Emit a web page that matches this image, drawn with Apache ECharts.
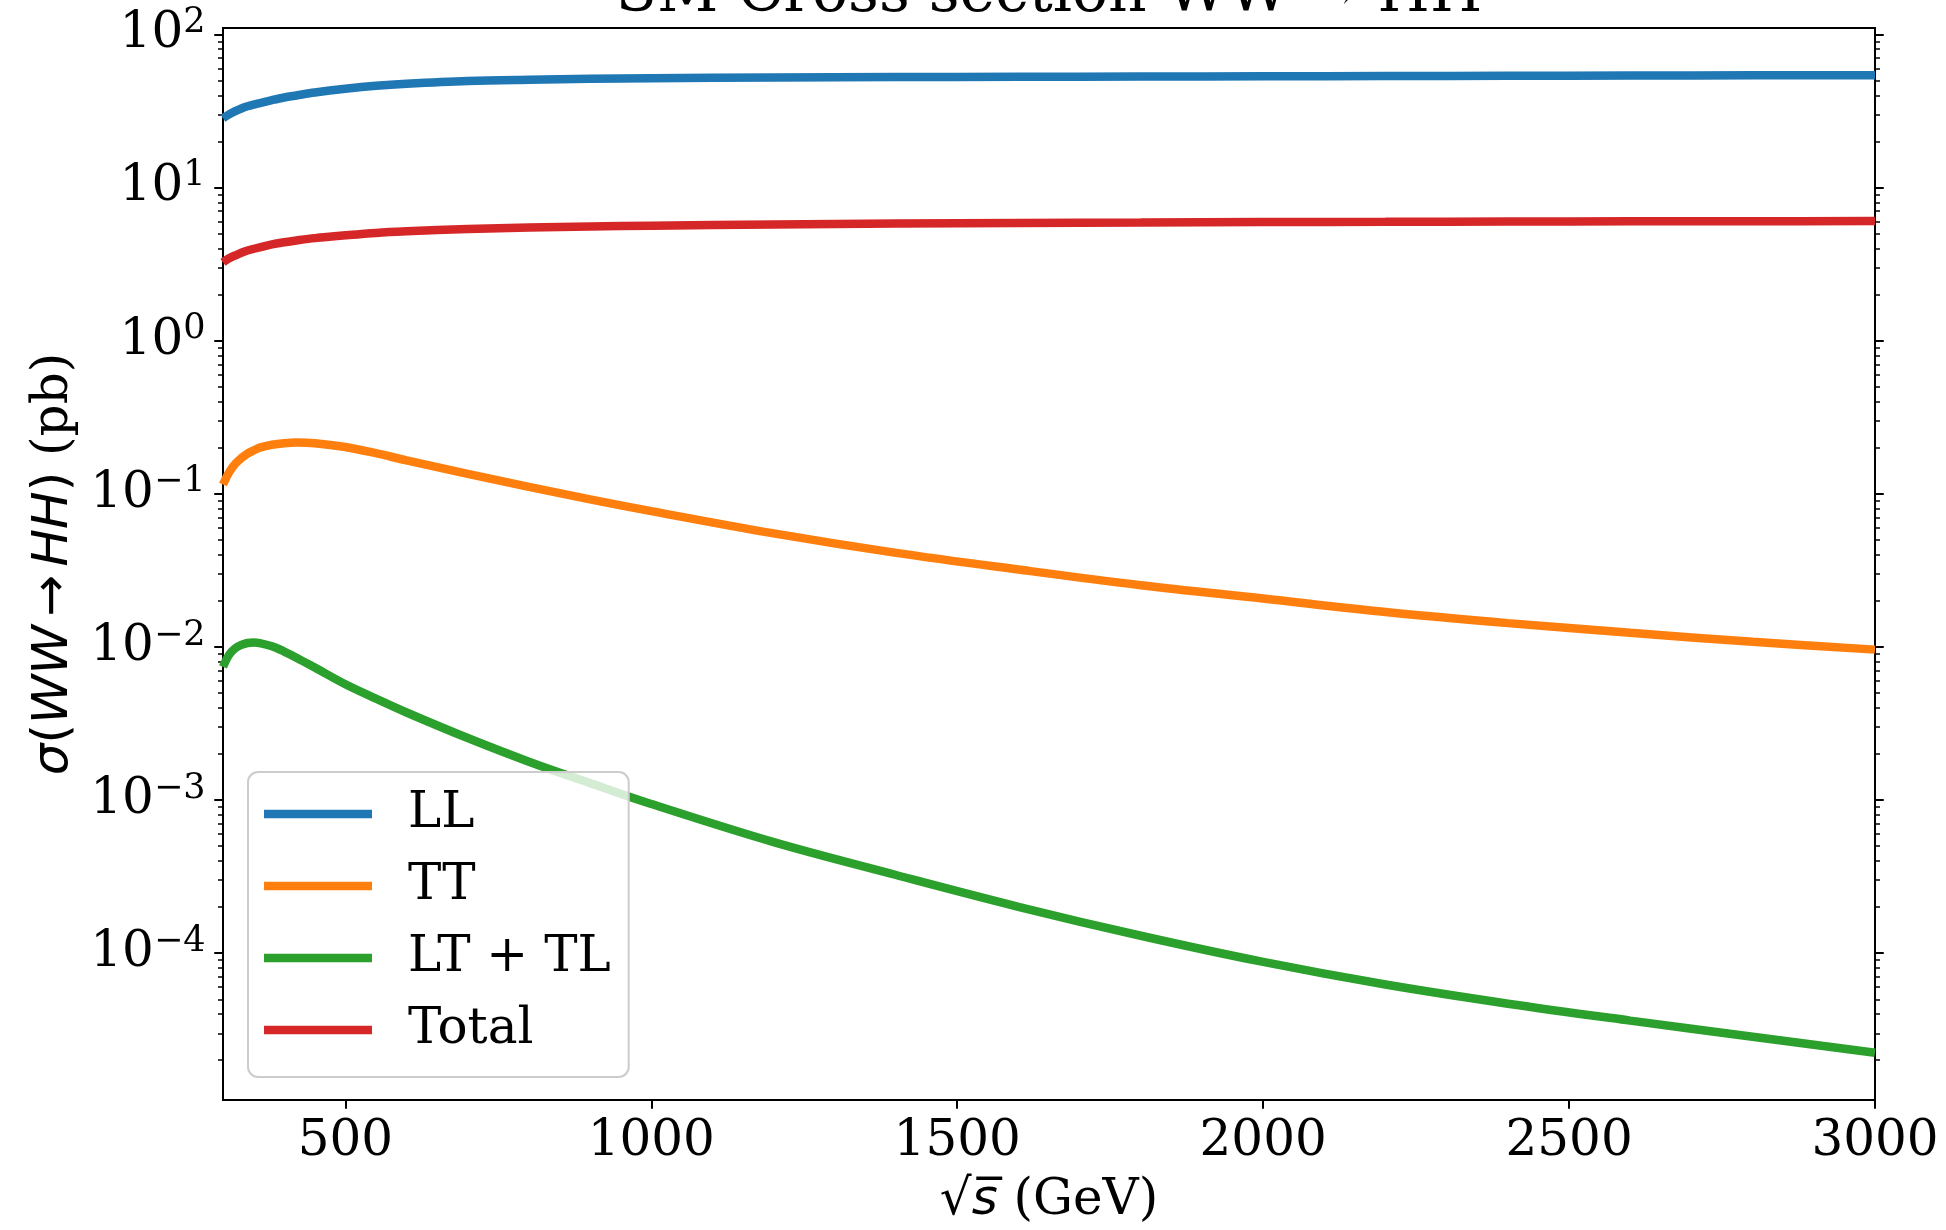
<!DOCTYPE html>
<html><head><meta charset="utf-8">
<script src="https://cdn.jsdelivr.net/npm/echarts@6/dist/echarts.min.js"></script>
<style>html,body{margin:0;padding:0;background:#fff}#c{width:1946px;height:1230px}</style>
</head><body><div id="c"></div>
<script>
// ---- data ----
const sqrtS = [300,310,320,330,340,350,360,380,400,420,450,500,550,600,700,800,900,1000,1200,1400,1600,1800,2000,2200,2400,2600,2800,3000];
const LL    = [28.3,30.0,31.5,32.8,33.9,34.8,35.6,37.2,38.7,39.9,41.7,44.1,46.1,47.5,49.5,50.5,51.2,51.7,52.3,52.6,52.8,53.0,53.2,53.4,53.6,53.8,54.0,54.1];
const TT    = [0.115,0.138,0.157,0.171,0.183,0.192,0.200,0.209,0.214,0.216,0.214,0.202,0.184,0.165,0.135,0.111,0.092,0.077,0.0551,0.0411,0.032,0.0253,0.0207,0.0169,0.0143,0.01236,0.0108,0.0096];
const LTTL  = [0.0074,0.00889,0.0098,0.0103,0.0106,0.0107,0.0106,0.0101,0.00933,0.00851,0.00733,0.0057,0.00459,0.00373,0.00254,0.00178,0.00129,0.000942,0.000531,0.000324,0.000201,0.00013,0.0000877,0.0000624,0.0000468,0.0000363,0.0000285,0.0000224];
const Total = [3.24,3.45,3.60,3.75,3.88,3.98,4.06,4.25,4.39,4.51,4.67,4.87,5.05,5.17,5.36,5.48,5.56,5.63,5.74,5.82,5.87,5.91,5.95,5.97,5.99,6.01,6.02,6.04];
const seriesNames = ['LL','TT','LT + TL','Total'];
const seriesColors = ['#1f77b4','#ff7f0e','#2ca02c','#d62728'];
const xTicks = [500,1000,1500,2000,2500,3000];
const yMajor = [1e-4,1e-3,1e-2,1e-1,1,10,100];
const Y_MIN = 1.1e-5, Y_MAX = 110;
const X_MIN = 300, X_MAX = 3000;

const yMinor = [];
for (let k = -6; k <= 2; k++) for (let m = 2; m <= 9; m++) {
  const v = m * Math.pow(10, k);
  if (v > Y_MIN && v < Y_MAX) yMinor.push(v);
}

const SERIF = 'DejaVu Serif';
const SANS = 'DejaVu Sans';
const FS = 50;

function pairs(ys){ return sqrtS.map((x,i)=>[x, ys[i]]); }

function yLabelFmt(v){
  const e = Math.round(Math.log10(v));
  const s = e < 0 ? '\u2212' + (-e) : String(e);
  return '{b|10}{e|' + s + '}';
}

function yAxis(pos, vals, len, w, labels, extra){
  const ax = {
    type:'log', logBase:10, min:Y_MIN, max:Y_MAX, position:pos,
    axisLine:{show:false, onZero:false},
    splitLine:{show:false}, minorTick:{show:false}, minorSplitLine:{show:false},
    axisTick:{show:true, inside:false, length:len, lineStyle:{color:'#000', width:w}, customValues: vals},
    axisLabel: labels ? {
      show:true, customValues: vals, margin:17.5, formatter: yLabelFmt,
      rich:{
        b:{fontFamily:SERIF, fontSize:FS, lineHeight:58, color:'#000'},
        e:{fontFamily:SERIF, fontSize:35, lineHeight:35, verticalAlign:'top', color:'#000'}
      }
    } : {show:false}
  };
  return Object.assign(ax, extra || {});
}

const chart = echarts.init(document.getElementById('c'), null, {renderer:'canvas'});
chart.setOption({
  animation:false,
  backgroundColor:'#ffffff',
  title:{
    text:'SM Cross section WW \u2192 HH',
    left:1049, top:-35, textAlign:'center', padding:0,
    textStyle:{fontFamily:SERIF, fontSize:60, fontWeight:'normal', color:'#000'}
  },
  grid:{left:223, right:71, top:28, bottom:130, show:true, borderColor:'#000', borderWidth:2, backgroundColor:'transparent', outerBoundsMode:'none', containLabel:false},
  legend:{
    data:seriesNames, orient:'vertical', left:248, top:772,
    icon:'rect', itemWidth:108, itemHeight:8.5, itemGap:14,
    padding:[13,18,18,16],
    borderColor:'#cccccc', borderWidth:2, borderRadius:10,
    backgroundColor:'rgba(255,255,255,0.8)',
    selectedMode:false,
    itemStyle:{borderWidth:0},
    textStyle:{fontFamily:SERIF, fontSize:FS, lineHeight:58, color:'#000', padding:[0,0,0,31]}
  },
  xAxis:{
    type:'value', min:X_MIN, max:X_MAX,
    axisLine:{show:false, onZero:false},
    splitLine:{show:false},
    axisTick:{show:true, length:8.75, lineStyle:{color:'#000', width:2}, customValues:xTicks},
    axisLabel:{customValues:xTicks, margin:17.5, fontFamily:SERIF, fontSize:FS, color:'#000', formatter:(v)=>String(Math.round(v))},
    name:'{r|\u221a}{i|s\u0305}{n| (GeV)}',
    nameLocation:'middle', nameGap:76,
    nameTextStyle:{
      rich:{
        r:{fontFamily:SANS, fontSize:FS, color:'#000'},
        i:{fontFamily:SANS, fontStyle:'italic', fontSize:FS, color:'#000'},
        n:{fontFamily:SERIF, fontSize:FS, color:'#000'}
      }
    }
  },
  yAxis:[
    yAxis('left', yMajor, 8.75, 2, true, {
      name:'{m|\u03c3}{u|(}{m|WW}{u|\u2006\u2192\u2006}{m|HH}{u|)}{n| (pb)}',
      nameLocation:'middle', nameGap:138,
      nameTextStyle:{
        rich:{
          m:{fontFamily:SANS, fontStyle:'italic', fontSize:FS, color:'#000'},
          u:{fontFamily:SANS, fontSize:FS, color:'#000'},
          n:{fontFamily:SERIF, fontSize:FS, color:'#000'}
        }
      }
    }),
    yAxis('left', yMinor, 5, 1.5, false),
    yAxis('right', yMajor, 8.75, 2, false),
    yAxis('right', yMinor, 5, 1.5, false)
  ],
  series:[LL, TT, LTTL, Total].map((ys,i)=>({
    name:seriesNames[i], type:'line', yAxisIndex:0, data:pairs(ys),
    showSymbol:false, symbol:'none', smooth:0.35,
    lineStyle:{color:seriesColors[i], width:8.5, cap:'butt'},
    itemStyle:{color:seriesColors[i]},
    emphasis:{disabled:true}
  }))
});
</script>
</body></html>
